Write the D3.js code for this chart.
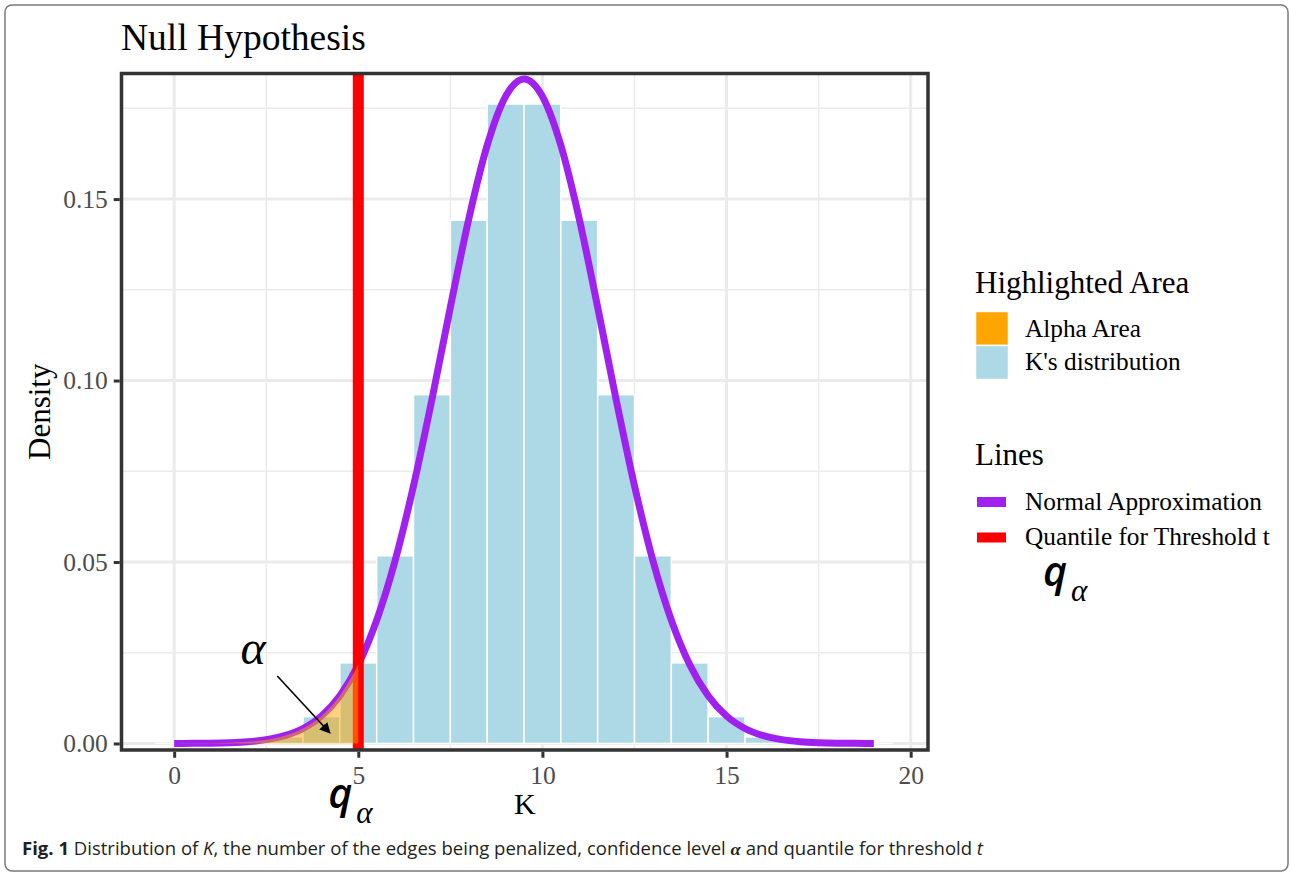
<!DOCTYPE html>
<html>
<head>
<meta charset="utf-8">
<script src="https://cdn.jsdelivr.net/npm/d3@7"></script>
<style>
  body { margin: 0; background: #fff; }
  svg { display: block; }
</style>
</head>
<body>
<div class="chart"></div>
<script>
// K values and the bar heights of K's distribution
const kValues = [0, 1, 2, 3, 4, 5, 6, 7, 8, 9, 10, 11, 12, 13, 14, 15, 16, 17, 18, 19];
const kDensity = [0.000002, 0.000036, 0.00033, 0.0018, 0.0074, 0.0222, 0.0517, 0.0961, 0.1442, 0.1762,
  0.1762, 0.1442, 0.0961, 0.0517, 0.0222, 0.0074, 0.0018, 0.00033, 0.000036, 0.000002];

// normal approximation curve
const curveX = [0, 0.5, 1, 1.5, 2, 2.5, 3, 3.5, 4, 4.5, 5, 5.5, 6, 6.5, 7, 7.5, 8, 8.5, 9, 9.5,
  10, 10.5, 11, 11.5, 12, 12.5, 13, 13.5, 14, 14.5, 15, 15.5, 16, 16.5, 17, 17.5, 18, 18.5, 19];
const curveDensity = [0.000014, 0.000036, 0.000091, 0.00022, 0.00049, 0.00105, 0.00214, 0.00413, 0.00757, 0.01316,
  0.0217, 0.0340, 0.0504, 0.0710, 0.0948, 0.1202, 0.1445, 0.1648, 0.1783, 0.1831,
  0.1783, 0.1648, 0.1445, 0.1202, 0.0948, 0.0710, 0.0504, 0.0340, 0.0217, 0.01316,
  0.00757, 0.00413, 0.00214, 0.00105, 0.00049, 0.00022, 0.000091, 0.000036, 0.000014];

const threshold = 5;

// axes
const xTicks = [0, 5, 10, 15, 20];
const xMinor = [2.5, 7.5, 12.5, 17.5];
const yTicks = [0, 0.05, 0.10, 0.15];
const yMinor = [0.025, 0.075, 0.125, 0.175];

// legend entries
const areaLegend = ["Alpha Area", "K's distribution"];
const areaColors = ["#FFA500", "#ADD8E6"];
const lineLegend = ["Normal Approximation", "Quantile for Threshold t"];
const lineColors = ["#A020F0", "#FF0000"];

const W = 1290, H = 873;
const serif = "'Liberation Serif', 'Times New Roman', serif";

// panel area
const panel = { left: 121.5, right: 928, top: 73.5, bottom: 750 };

const svg = d3.select(".chart")
  .append("svg")
  .attr("width", W)
  .attr("height", H);

svg.append("rect").attr("width", W).attr("height", H).attr("fill", "#fff");

// outer figure frame
svg.append("rect")
  .attr("x", 5).attr("y", 5)
  .attr("width", 1283).attr("height", 866)
  .attr("rx", 7)
  .attr("fill", "none")
  .attr("stroke", "#7a7a7a")
  .attr("stroke-width", 1.5);

const x = d3.scaleLinear()
  .domain([-1.43, 20.47])
  .range([panel.left, panel.right]);

const y = d3.scaleLinear()
  .domain([-0.0018, 0.1846])
  .range([panel.bottom, panel.top]);

const defs = svg.append("defs");
defs.append("clipPath").attr("id", "clip")
  .append("rect")
  .attr("x", panel.left).attr("y", panel.top)
  .attr("width", panel.right - panel.left)
  .attr("height", panel.bottom - panel.top);

defs.append("marker")
  .attr("id", "arrow")
  .attr("viewBox", "0 0 10 10")
  .attr("refX", 9).attr("refY", 5)
  .attr("markerWidth", 11).attr("markerHeight", 11)
  .attr("markerUnits", "userSpaceOnUse")
  .attr("orient", "auto")
  .append("path")
  .attr("d", "M0,0 L10,5 L0,10 z")
  .attr("fill", "#000");

const plot = svg.append("g").attr("clip-path", "url(#clip)");

// grid lines
plot.selectAll(".xminor").data(xMinor).join("line")
  .attr("x1", d => x(d)).attr("x2", d => x(d))
  .attr("y1", panel.top).attr("y2", panel.bottom)
  .attr("stroke", "#EBEBEB").attr("stroke-width", 1.5);
plot.selectAll(".yminor").data(yMinor).join("line")
  .attr("y1", d => y(d)).attr("y2", d => y(d))
  .attr("x1", panel.left).attr("x2", panel.right)
  .attr("stroke", "#EBEBEB").attr("stroke-width", 1.5);
plot.selectAll(".xmajor").data(xTicks).join("line")
  .attr("x1", d => x(d)).attr("x2", d => x(d))
  .attr("y1", panel.top).attr("y2", panel.bottom)
  .attr("stroke", "#EBEBEB").attr("stroke-width", 3);
plot.selectAll(".ymajor").data(yTicks).join("line")
  .attr("y1", d => y(d)).attr("y2", d => y(d))
  .attr("x1", panel.left).attr("x2", panel.right)
  .attr("stroke", "#EBEBEB").attr("stroke-width", 3);

// histogram bars
plot.selectAll(".bar").data(kValues).join("rect")
  .attr("x", d => x(d - 0.5))
  .attr("width", d => x(d + 0.5) - x(d - 0.5))
  .attr("y", (d, i) => y(kDensity[i]))
  .attr("height", (d, i) => y(0) - y(kDensity[i]))
  .attr("fill", areaColors[1])
  .attr("stroke", "#fff")
  .attr("stroke-width", 1.5);

// normal approximation line
const line = d3.line()
  .curve(d3.curveMonotoneX)
  .x((d, i) => x(curveX[i]))
  .y(d => y(d));

plot.append("path")
  .datum(curveDensity)
  .attr("fill", "none")
  .attr("stroke", lineColors[0])
  .attr("stroke-width", 7)
  .attr("d", line);

// quantile line
plot.append("line")
  .attr("x1", x(threshold)).attr("x2", x(threshold))
  .attr("y1", panel.top).attr("y2", panel.bottom)
  .attr("stroke", lineColors[1])
  .attr("stroke-width", 11);

// alpha area under the curve up to the threshold
const alphaIdx = curveX.map((d, i) => i).filter(i => curveX[i] <= threshold);
const area = d3.area()
  .curve(d3.curveMonotoneX)
  .x(i => x(curveX[i]))
  .y0(y(0))
  .y1(i => y(curveDensity[i]));

plot.append("path")
  .datum(alphaIdx)
  .attr("fill", areaColors[0])
  .attr("fill-opacity", 0.5)
  .attr("d", area);

// panel border
svg.append("rect")
  .attr("x", panel.left).attr("y", panel.top)
  .attr("width", panel.right - panel.left)
  .attr("height", panel.bottom - panel.top)
  .attr("fill", "none")
  .attr("stroke", "#333333")
  .attr("stroke-width", 3.5);

// axes
const xAxis = svg.append("g")
  .attr("transform", `translate(0, ${panel.bottom + 1.75})`)
  .call(d3.axisBottom(x).tickValues(xTicks).tickSize(6).tickPadding(8).tickFormat(d3.format("d")));
const yAxis = svg.append("g")
  .attr("transform", `translate(${panel.left - 1.75}, 0)`)
  .call(d3.axisLeft(y).tickValues(yTicks).tickSize(6).tickPadding(6).tickFormat(d3.format(".2f")));

[xAxis, yAxis].forEach(ax => {
  ax.select(".domain").remove();
  ax.selectAll(".tick line").attr("stroke", "#333333").attr("stroke-width", 3);
  ax.selectAll(".tick text")
    .attr("fill", "#4D4D4D")
    .style("font-family", serif)
    .style("font-size", "25.5px");
});

// titles
svg.append("text")
  .attr("x", 121).attr("y", 50)
  .style("font-family", serif).style("font-size", "37.5px")
  .attr("fill", "#000")
  .text("Null Hypothesis");

svg.append("text")
  .attr("x", (panel.left + panel.right) / 2).attr("y", 814)
  .attr("text-anchor", "middle")
  .style("font-family", serif).style("font-size", "30px")
  .text("K");

svg.append("text")
  .attr("transform", `translate(50, ${(panel.top + panel.bottom) / 2}) rotate(-90)`)
  .attr("text-anchor", "middle")
  .style("font-family", serif).style("font-size", "31px")
  .text("Density");

// legend: highlighted area
const leg = svg.append("g").style("font-family", serif);
leg.append("text").attr("x", 975).attr("y", 293).style("font-size", "31px").text("Highlighted Area");
leg.selectAll(".akey").data(areaLegend).join("rect")
  .attr("x", 975.5).attr("y", (d, i) => 311.5 + i * 34)
  .attr("width", 33).attr("height", 34)
  .attr("fill", (d, i) => areaColors[i])
  .attr("stroke", "#fff").attr("stroke-width", 1.5);
leg.selectAll(".alab").data(areaLegend).join("text")
  .attr("x", 1025).attr("y", (d, i) => 337 + i * 33)
  .style("font-size", "25.3px")
  .text(d => d);

// legend: lines
leg.append("text").attr("x", 975).attr("y", 465).style("font-size", "31px").text("Lines");
leg.selectAll(".lkey").data(lineLegend).join("rect")
  .attr("x", 977).attr("y", (d, i) => 497 + i * 35.5)
  .attr("width", 29).attr("height", 10)
  .attr("fill", (d, i) => lineColors[i]);
leg.selectAll(".llab").data(lineLegend).join("text")
  .attr("x", 1025).attr("y", (d, i) => 510 + i * 34.5)
  .style("font-size", "25.3px")
  .text(d => d);

// q_alpha labels
function qAlpha(px, py) {
  const t = svg.append("text").attr("x", px).attr("y", py);
  t.append("tspan")
    .style("font-family", "'Open Sans', sans-serif")
    .style("font-style", "italic")
    .style("font-weight", "600")
    .style("font-size", "41px")
    .text("q");
  t.append("tspan")
    .attr("dx", 4).attr("dy", 15)
    .style("font-family", serif)
    .style("font-style", "italic")
    .style("font-size", "31px")
    .text("α");
}
qAlpha(x(threshold) - 30, 808);
qAlpha(1043, 586);

// alpha annotation with arrow
svg.append("text")
  .attr("x", x(1.8)).attr("y", y(0.0219))
  .style("font-family", serif)
  .style("font-style", "italic")
  .style("font-size", "48px")
  .text("α");
svg.append("line")
  .attr("x1", x(2.8)).attr("y1", y(0.0186))
  .attr("x2", x(4.23)).attr("y2", y(0.0029))
  .attr("stroke", "#000").attr("stroke-width", 1.6)
  .attr("marker-end", "url(#arrow)");

// caption
const cap = svg.append("text")
  .attr("x", 22).attr("y", 855)
  .attr("fill", "#231f20")
  .style("font-family", "'Open Sans', sans-serif")
  .style("font-size", "17.5px");
cap.append("tspan").attr("font-weight", "bold").text("Fig. 1");
cap.append("tspan").text(" Distribution of ");
cap.append("tspan").attr("font-style", "italic").text("K");
cap.append("tspan").text(", the number of the edges being penalized, confidence level ");
cap.append("tspan").attr("font-style", "italic").attr("font-weight", "bold").style("font-family", serif).text("α");
cap.append("tspan").text(" and quantile for threshold ");
cap.append("tspan").attr("font-style", "italic").text("t");
cap.attr("textLength", 961).attr("lengthAdjust", "spacingAndGlyphs");
</script>
</body>
</html>
